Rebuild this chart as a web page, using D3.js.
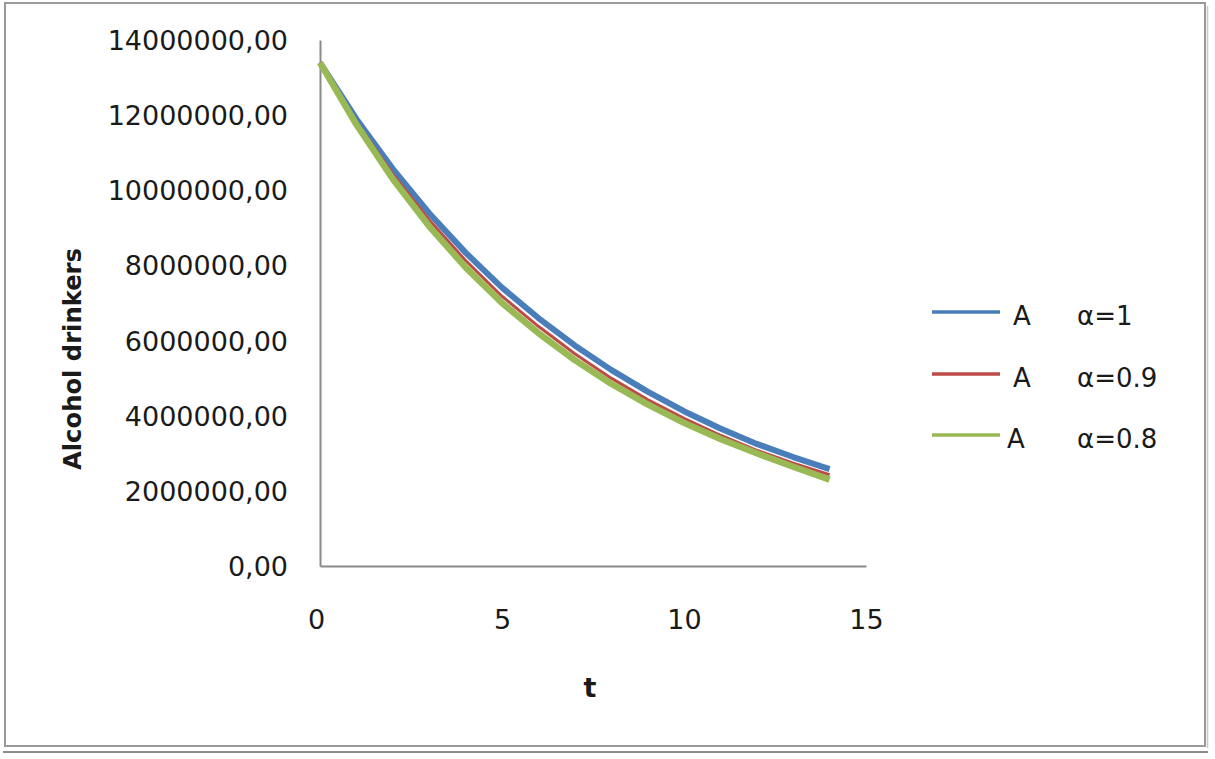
<!DOCTYPE html>
<html>
<head>
<meta charset="utf-8">
<script src="https://cdn.jsdelivr.net/npm/d3@7/dist/d3.min.js"></script>
<style>
html,body{margin:0;padding:0;background:#fff;}
svg{display:block;}
text{font-family:"DejaVu Sans",Verdana,sans-serif;fill:#1a1a1a;}
</style>
</head>
<body>
<svg id="chart" width="1215" height="759"></svg>
<script>
// ---- data (values in persons) ----
const tValues = [0,1,2,3,4,5,6,7,8,9,10,11,12,13,14];
const alpha1  = [13400000,11900000,10570000,9390000,8340000,7410000,6600000,5870000,5220000,4640000,4120000,3660000,3250000,2900000,2580000];
const alpha09 = [13400000,11820000,10430000,9210000,8130000,7180000,6380000,5650000,5000000,4430000,3930000,3480000,3080000,2740000,2430000];
const alpha08 = [13400000,11750000,10300000,9040000,7950000,7000000,6200000,5480000,4850000,4300000,3810000,3380000,3000000,2640000,2300000];
const seriesNames = ["α=1","α=0.9","α=0.8"];
const seriesColors = ["#4a7ebb","#be4b48","#98b954"];
const xTicks = [0,5,10,15];
const yTicks = [0,2000000,4000000,6000000,8000000,10000000,12000000,14000000];
const yTitle = "Alcohol drinkers";
const xTitle = "t";

const svg = d3.select("#chart");

// frame
svg.append("rect").attr("x",5).attr("y",3).attr("width",1200).attr("height",743)
  .attr("fill","#fff").attr("stroke","#9a9a9a").attr("stroke-width",2);
svg.append("line").attr("x1",3).attr("x2",1208).attr("y1",752).attr("y2",752)
  .attr("stroke","#8c8c8c").attr("stroke-width",2);
svg.append("line").attr("x1",1207.5).attr("x2",1207.5).attr("y1",6).attr("y2",748)
  .attr("stroke","#c8c8c8").attr("stroke-width",1.5);

const x = d3.scaleLinear().domain([0,15]).range([320,866]);
const y = d3.scaleLinear().domain([0,14000000]).range([566,40]);

const fmtY = v => d3.format(".2f")(v).replace(".",",");

// y axis
const yAxis = d3.axisLeft(y).tickValues(yTicks).tickSize(0).tickPadding(32).tickFormat(fmtY);
const gy = svg.append("g").attr("transform","translate(320,0)").call(yAxis);
gy.select(".domain").attr("stroke","#8a8a8a").attr("stroke-width",2);
gy.selectAll("text").style("font-size","27px").style("font-family","DejaVu Sans").attr("fill","#1a1a1a").attr("dy","0.35em");

// x axis
const xAxis = d3.axisBottom(x).tickValues(xTicks).tickSize(0).tickPadding(44).tickFormat(d3.format("d"));
const gx = svg.append("g").attr("transform","translate(0,566)").call(xAxis);
gx.select(".domain").attr("stroke","#8a8a8a").attr("stroke-width",2);
gx.selectAll("text").style("font-size","27px").style("font-family","DejaVu Sans").attr("fill","#1a1a1a");
gx.selectAll(".tick text").attr("dx", (d,i)=> i===0 ? "-4px" : "0px");

// titles
svg.append("text").attr("transform","translate(73,359) rotate(-90)")
  .attr("text-anchor","middle").attr("dy","0.35em")
  .attr("textLength",222).attr("lengthAdjust","spacingAndGlyphs")
  .style("font-size","24px").style("font-weight","bold").text(yTitle);
svg.append("text").attr("x",590).attr("y",688).attr("text-anchor","middle").attr("dy","0.35em")
  .style("font-size","27px").style("font-weight","bold").text(xTitle);

// lines
const seriesData = [alpha1, alpha09, alpha08];
const widths = [6, 3, 6.5];
const line = d3.line().x((d,i)=>x(tValues[i])).y(d=>y(d));
seriesData.forEach((s,k)=>{
  svg.append("path").datum(s).attr("d",line).attr("fill","none")
    .attr("stroke",seriesColors[k]).attr("stroke-width",widths[k])
    .attr("stroke-linejoin","round");
});

// legend
const legY = [312,374,435];
const legAx = [1013,1013,1007];
seriesNames.forEach((n,k)=>{
  svg.append("line").attr("x1",932).attr("x2",1000).attr("y1",legY[k]).attr("y2",legY[k])
    .attr("stroke",seriesColors[k]).attr("stroke-width",3.5);
  svg.append("text").attr("x",legAx[k]).attr("y",legY[k]+4).attr("dy","0.35em")
    .style("font-size","26px").text("A");
  svg.append("text").attr("x",1077).attr("y",legY[k]+4).attr("dy","0.35em")
    .style("font-size","26px").text(n);
});
</script>
</body>
</html>
